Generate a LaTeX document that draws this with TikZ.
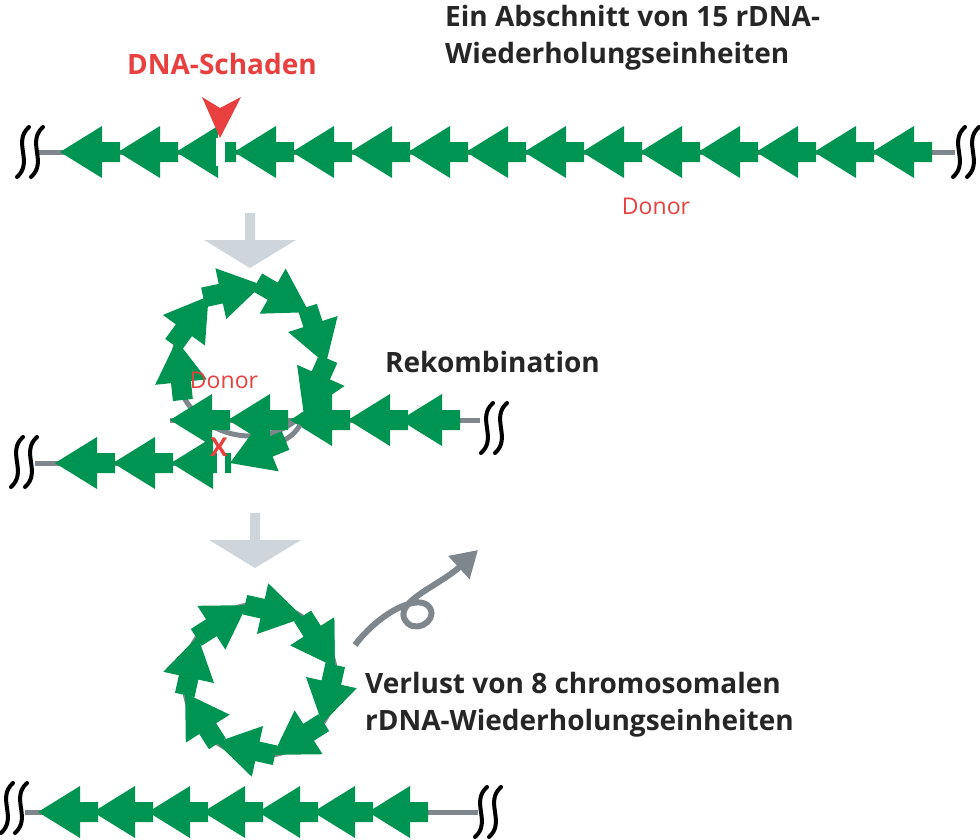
\documentclass[tikz,border=0pt]{standalone}
\usepackage{fontspec}
\setmainfont{Open Sans}
\usetikzlibrary{arrows.meta}
\definecolor{dgreen}{HTML}{009452}
\definecolor{dnagray}{HTML}{7F868C}
\definecolor{lgray}{HTML}{CFD6DB}
\definecolor{dred}{HTML}{E8403F}
\tikzset{
  unit/.pic={\fill[dgreen] (0,0)--(42,26)--(42,10)--(60,10)--(60,-10)--(42,-10)--(42,-26)--cycle;},
  brk/.pic={\foreach \d in {-7,7}{\draw[line width=4pt,line cap=round] (\d+6,25) .. controls (\d-11,10) and (\d+11,-10) .. (\d-6,-25);}},
  dna/.style={dnagray,line width=5pt},
  lbl/.style={font=\fontsize{28}{37}\selectfont\bfseries,text=black!85,align=left,inner sep=0pt},
  donor/.style={font=\fontsize{23}{26}\selectfont,text=dred,inner sep=0pt},
  downarr/.style={fill=lgray}
}
\begin{document}
\begin{tikzpicture}[x=1pt,y=1pt]
\useasboundingbox (0,0) rectangle (980,-839);
% texts
\node[lbl,anchor=north west] (t1) at (445,-5) {Ein Abschnitt von 15 rDNA-\\Wiederholungseinheiten};
\node[lbl,text=dred,anchor=center] (t2) at (222,-64) {DNA-Schaden};
\node[donor] (d1) at (656,-206) {Donor};
% top line
\draw[dna] (35,-152) -- (955,-152);
\foreach \i in {0,...,14}{\pic at ({60+58*\i},-152) {unit};}
\fill[white] (216,-138) rectangle (225,-166);
\pic at (30,-152) {brk};
\pic at (966,-152) {brk};
\fill[dred] (202,-97) -- (220,-108) -- (241,-97) -- (220,-138) -- cycle;
% first down arrow
\fill[downarr] (245,-213) -- (255,-213) -- (255,-240) -- (296,-240) -- (250,-268) -- (204,-240) -- (245,-240) -- cycle;
% middle loop
\coordinate (c1) at (250,-360);
\draw[dna] ([shift={(-45:76)}]c1) arc[start angle=-45,end angle=-200,radius=76];
\foreach \a in {-45,-3,39,81,123,165}{
  \pic[rotate={\a+111}] at ([shift={(\a:76)}]c1) {unit};}
\node[donor] (d2) at (224,-380) {Donor};
\node[lbl,anchor=west] (t3) at (385,-362) {Rekombination};
% middle upper strand
\draw[dna] (170,-420) -- (480,-420);
\foreach \x in {170,228,290,348,400}{\pic at (\x,-420) {unit};}
\pic at (494,-428) {brk};
% middle lower strand
\draw[dna] (35,-463) -- (230,-463);
\draw[dna] (270,-448) to[out=30,in=-120] (300,-425);
\foreach \x in {55,113,171}{\pic at (\x,-463) {unit};}
\fill[white] (217,-450) rectangle (225,-476);
\pic[rotate=22] at (230,-463) {unit};
\pic at (24,-462) {brk};
\node[text=dred,font=\fontsize{26}{30}\selectfont\bfseries,inner sep=0pt] (x) at (219,-447) {X};
% second down arrow
\fill[downarr] (250,-513) -- (260,-513) -- (260,-540) -- (301,-540) -- (255,-568) -- (209,-540) -- (250,-540) -- cycle;
% bottom circle
\coordinate (c2) at (260,-680);
\draw[dna] (c2) circle[radius=76];
\foreach \a in {10,55,...,370}{
  \pic[rotate={\a+112.5}] at ([shift={(\a:76)}]c2) {unit};}
% curly arrow
\coordinate (ca) at (355,-645);
\coordinate (cb) at (478,-550);
\draw[dnagray,line width=6pt,-{Triangle[length=26pt,width=30pt]}] (ca) .. controls (380,-612) and (420,-592) .. (430,-608) .. controls (438,-622) and (412,-636) .. (404,-618) .. controls (398,-600) and (440,-585) .. (cb);
\node[lbl,anchor=north west] (t4) at (365,-672) {Verlust von 8 chromosomalen\\rDNA-Wiederholungseinheiten};
% bottom line
\draw[dna] (25,-812) -- (478,-812);
\foreach \i in {0,...,6}{\pic at ({38+55*\i},-812) {unit};}
\pic at (14,-808) {brk};
\pic at (488,-812) {brk};
\end{tikzpicture}
\end{document}
